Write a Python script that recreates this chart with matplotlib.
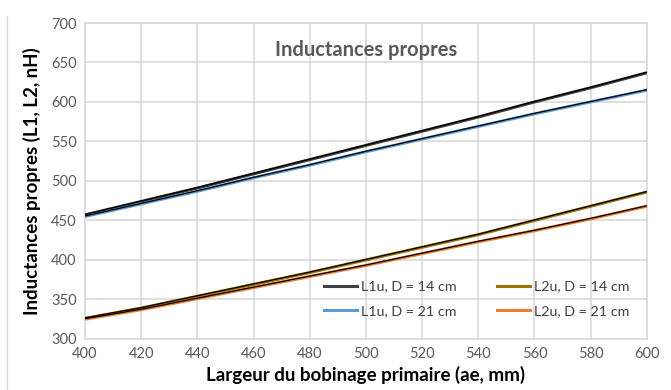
import numpy as np
import matplotlib.pyplot as plt
from matplotlib.lines import Line2D

# largeur du bobinage primaire (mm)
ae = [400, 420, 440, 460, 480, 500, 520, 540, 560, 580, 600]

# inductances propres (nH)
l1u_14 = [457, 474, 491, 509, 527, 545, 563, 581, 600, 618, 637]
l1u_21 = [455, 471, 487, 504, 520, 537, 553, 569, 585, 600, 615]
l2u_14 = [326, 339, 354, 369, 384, 400, 416, 432, 450, 468, 486]
l2u_21 = [325, 337, 351, 365, 379, 393, 408, 423, 437, 452, 468]

labels = ['L1u, D = 14 cm', 'L1u, D = 21 cm', 'L2u, D = 14 cm', 'L2u, D = 21 cm']
colors = ['#404040', '#5B9BD5', '#9C7600', '#ED7D31']
series = [l1u_14, l1u_21, l2u_14, l2u_21]

plt.rcParams['font.family'] = ['Lato', 'DejaVu Sans']

fig = plt.figure(figsize=(6.71, 3.90), dpi=100)
ax = fig.add_axes([0.1267, 0.131, 0.8373, 0.810])

for vals, c in zip(series, colors):
    ax.plot(ae, vals, color=c, lw=2.2, solid_capstyle='butt', zorder=3)
    # courbe calculée superposée
    ax.plot(ae, np.array(vals) + 0.6, color='black', lw=0.9, zorder=4)

ax.set_xlim(400, 600)
ax.set_ylim(300, 700)
ax.set_xticks(range(400, 601, 20))
ax.set_yticks(range(300, 701, 50))
ax.grid(True, color='#D9D9D9', lw=1.2)
ax.set_axisbelow(True)
for s in ax.spines.values():
    s.set_color('#D9D9D9')
    s.set_linewidth(1.2)
ax.tick_params(length=0, labelsize=10.5, labelcolor='#595959', pad=6)

ax.set_xlabel('Largeur du bobinage primaire (ae, mm)', fontsize=13.5,
              fontweight='bold', labelpad=3)
ax.set_ylabel('Inductances propres (L1, L2, nH)', fontsize=13.5,
              fontweight='bold', labelpad=7)

ax.text(0.5, 0.945, 'Inductances propres', transform=ax.transAxes,
        ha='center', va='top', fontsize=14.5, fontweight='bold', color='#595959')

handles = [Line2D([], [], color=c, lw=2.2) for c in colors]
ax.legend(handles, labels, ncol=2, loc='lower left', bbox_to_anchor=(0.425, 0.07),
          borderaxespad=0, borderpad=0, frameon=False, fontsize=10.3,
          handlelength=2.3, handletextpad=0.3, columnspacing=2.8,
          labelspacing=0.85, labelcolor='#404040')

# bordure du graphique
fig.add_artist(Line2D([7 / 671, 7 / 671], [0, 0.96], color='#D9D9D9', lw=1))

fig.savefig('out.png', dpi=100)
